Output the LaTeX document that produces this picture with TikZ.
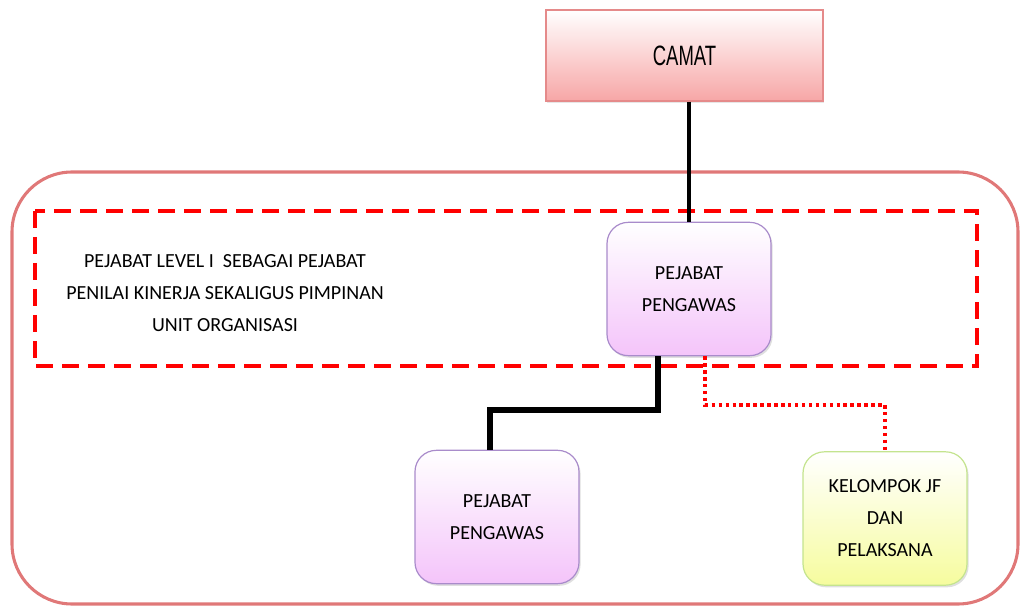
\documentclass[tikz,border=0pt]{standalone}
\usepackage{fontspec}
\usepackage{graphicx}
\setmainfont{Carlito}
\newfontfamily\arialfont{Liberation Sans}
\usetikzlibrary{shadows}

\definecolor{frameline}{HTML}{E07878}
\definecolor{camatfill}{HTML}{F7A6A6}
\definecolor{camatline}{HTML}{E58A8A}
\definecolor{violetfill}{HTML}{F4C4FA}
\definecolor{violetline}{HTML}{A98BCB}
\definecolor{limefill}{HTML}{F6FC9E}
\definecolor{limeline}{HTML}{C4E48E}
\definecolor{dashred}{HTML}{FF0000}

\tikzset{
  x=0.75pt, y=-0.75pt,
  boxtext/.style={font=\fontsize{15}{24}\selectfont, align=center, text=black},
  unitbox/.style={rounded corners=16pt, minimum width=123pt, minimum height=100pt,
    inner sep=0pt, line width=0.9pt,
    drop shadow={opacity=0.25, shadow xshift=1.2pt, shadow yshift=-1.6pt}},
  violetbox/.style={unitbox, boxtext, draw=violetline, top color=white, middle color=white!80!violetfill, bottom color=violetfill},
  limebox/.style={unitbox, boxtext, draw=limeline, top color=white, middle color=white!80!limefill, bottom color=limefill},
  headbox/.style={draw=camatline, line width=1pt, minimum width=207.75pt, minimum height=68.25pt,
    inner sep=0pt, top color=white, middle color=white!80!camatfill, bottom color=camatfill,
    drop shadow={opacity=0.2, shadow xshift=1pt, shadow yshift=-1.2pt}},
  solidlink/.style={line width=4pt, black},
  dottedlink/.style={line width=2.3pt, dashred, dash pattern=on 2.6pt off 2.6pt},
  levelframe/.style={line width=3pt, dashred, dash pattern=on 12.5pt off 7pt},
  outerframe/.style={line width=2.3pt, frameline, rounded corners=45pt},
}

\begin{document}
\begin{tikzpicture}
  \useasboundingbox (0,0) rectangle (1022,606);

  % outer rounded frame
  \draw[outerframe] (12,172) rectangle (1018,604);

  % dashed frame of the level-one unit
  \draw[levelframe] (35,211) rectangle (977,366);

  % boxes
  \node[headbox] (camat) at (684.5,55.5) {\arialfont\fontsize{21}{24}\selectfont\scalebox{0.66}[1]{CAMAT}};
  \node[violetbox] (tp) at (689,289) {PEJABAT\\PENGAWAS};
  \node[violetbox] (bl) at (497,517) {PEJABAT\\PENGAWAS};
  \node[limebox] (kj) at (885,518.5) {KELOMPOK JF\\DAN\\PELAKSANA};

  \node[boxtext, inner sep=0pt] (note) at (225,293)
    {PEJABAT LEVEL I \ SEBAGAI PEJABAT\\PENILAI KINERJA SEKALIGUS PIMPINAN\\UNIT ORGANISASI};

  % bend points of the connectors
  \coordinate (sbend) at (658,410);
  \coordinate (dbend) at (705,405);
  \coordinate (sdrop) at (490,452);

  % connectors
  \draw[line width=3pt] (tp.north |- camat.south) -- (tp.north);
  \draw[solidlink] (tp.south -| sbend) -- (sbend) -| (bl.north -| sdrop);
  \draw[dottedlink] (tp.south -| dbend) -- (dbend) -| (kj.north);
\end{tikzpicture}
\end{document}
